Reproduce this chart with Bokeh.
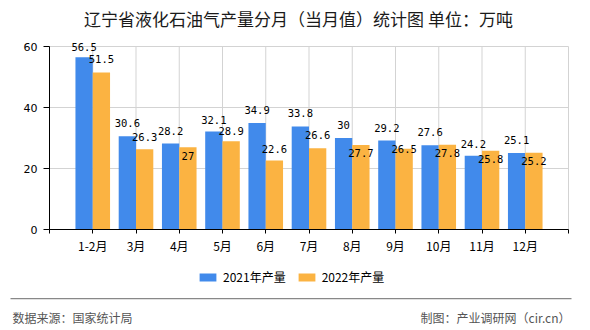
from bokeh.plotting import figure
from bokeh.models import (ColumnDataSource, Range1d, FixedTicker, Label, Legend,
                          LegendItem, BoxAnnotation, LinearAxis)
from bokeh.core.properties import value
from bokeh.embed import file_html
from bokeh.resources import INLINE

# ---------------- data ----------------
categories = ["1-2月", "3月", "4月", "5月", "6月", "7月", "8月", "9月", "10月", "11月", "12月"]
prod_2021 = [56.5, 30.6, 28.2, 32.1, 34.9, 33.8, 30.0, 29.2, 27.6, 24.2, 25.1]
prod_2022 = [51.5, 26.3, 27.0, 28.9, 22.6, 26.6, 27.7, 26.5, 27.8, 25.8, 25.2]
series_names = ["2021年产量", "2022年产量"]
label_2021 = ["56.5", "30.6", "28.2", "32.1", "34.9", "33.8", "30", "29.2", "27.6", "24.2", "25.1"]
label_2022 = ["51.5", "26.3", "27", "28.9", "22.6", "26.6", "27.7", "26.5", "27.8", "25.8", "25.2"]
# label placement (pixels above bar top; negative = below top), as in the reference
dy_2021 = [10, 13, 12, 12, 13, 13, 13, 12, 13, 12, 13]
dy_2022 = [13, 12, -9, 10, 12, 13, -8, 0, -8, -8, -8]
y_ticks = [0, 20, 40, 60]

title_text = "辽宁省液化石油气产量分月（当月值）统计图 单位：万吨"
source_text = "数据来源：国家统计局"
maker_text = "制图：产业调研网（cir.cn）"

BLUE = "#418aeb"
ORANGE = "#fbb342"
GRID = "#d3d3d3"
CJK = "Noto Sans CJK SC"

W, H = 590, 330
# plot area in canvas pixels
PL, PR, PT, PB = 49, 568, 46, 229

n = len(categories)
xs = list(range(1, n + 1))
x_lo, x_hi = 0, n + 1
y_lo, y_hi = 0, max(y_ticks)
ux = (PR - PL) / (x_hi - x_lo)
uy = (PB - PT) / (y_hi - y_lo)

src = ColumnDataSource(dict(
    x1=[v - 0.2 for v in xs],
    x2=[v + 0.2 for v in xs],
    y1=prod_2021, y2=prod_2022,
    l1=label_2021, l2=label_2022,
    o1=[-d for d in dy_2021], o2=[-d for d in dy_2022],
))

# the frame covers the whole canvas; the axes are pinned inside it
p = figure(width=W, height=H, output_backend="svg", toolbar_location=None,
           x_range=Range1d(x_lo - PL / ux, x_hi + (W - PR) / ux),
           y_range=Range1d(y_lo - (H - PB) / uy, y_hi + PT / uy),
           x_axis_location=None, y_axis_location=None,
           min_border=0, min_border_left=0, min_border_right=0,
           min_border_top=0, min_border_bottom=0)
p.outline_line_color = None
p.grid.visible = False
p.background_fill_color = "white"
p.border_fill_color = "white"

# grid lines
gx = list(range(x_lo, x_hi + 1))
p.segment(x0=gx, y0=[y_lo] * len(gx), x1=gx, y1=[y_hi] * len(gx),
          line_color=GRID, line_width=1, level="underlay")
gy = [t for t in y_ticks if t > y_lo]
p.segment(x0=[x_lo] * len(gy), y0=gy, x1=[x_hi] * len(gy), y1=gy,
          line_color=GRID, line_width=1, level="underlay")

r1 = p.vbar(x="x1", top="y1", width=0.4, source=src, fill_color=BLUE, line_color=None)
r2 = p.vbar(x="x2", top="y2", width=0.4, source=src, fill_color=ORANGE, line_color=None)

lbl_font = value("DejaVu Sans Mono")
p.text(x="x1", y="y1", text="l1", y_offset="o1", source=src, text_align="center",
       text_baseline="middle", text_font=lbl_font, text_font_size="10.5px", text_color="#000000")
p.text(x="x2", y="y2", text="l2", y_offset="o2", source=src, text_align="center",
       text_baseline="middle", text_font=lbl_font, text_font_size="10.5px", text_color="#000000")

# axes
overrides = {x_lo: "", x_hi: ""}
for i, c in enumerate(categories):
    overrides[i + 1] = c
xa = LinearAxis(fixed_location=y_lo, bounds=(x_lo, x_hi), ticker=FixedTicker(ticks=gx),
                major_label_overrides=overrides, minor_tick_line_color=None,
                major_tick_out=4, major_tick_in=0, major_label_standoff=3,
                axis_line_color="#000000", major_tick_line_color="#000000",
                major_label_text_font=CJK, major_label_text_font_size="12px",
                major_label_text_color="#000000")
p.add_layout(xa, "below")

ya = LinearAxis(fixed_location=x_lo, bounds=(y_lo, y_hi), ticker=FixedTicker(ticks=y_ticks),
                minor_tick_line_color=None, major_tick_out=6, major_tick_in=0,
                major_label_standoff=6, axis_line_color="#000000",
                major_tick_line_color="#000000", major_label_text_font="DejaVu Sans",
                major_label_text_font_size="11px", major_label_text_color="#000000")
p.add_layout(ya, "left")

# legend
legend = Legend(items=[LegendItem(label=series_names[0], renderers=[r1]),
                       LegendItem(label=series_names[1], renderers=[r2])],
                orientation="horizontal", location=(197, H - 285),
                glyph_width=21, glyph_height=10, label_height=14,
                label_standoff=5, spacing=10, padding=0, margin=0,
                border_line_color=None, background_fill_alpha=0,
                label_text_font=CJK, label_text_font_size="12px",
                label_text_color="#000000")
p.add_layout(legend, "center")

# title, rule and sources (screen units: origin at bottom-left of the canvas-sized frame)
p.add_layout(Label(x=298, y=H - 18, x_units="screen", y_units="screen", text=title_text,
                   text_align="center", text_baseline="middle", text_font=CJK,
                   text_font_size="17px", text_color="#1a1a1a"))
p.add_layout(BoxAnnotation(left=10, right=571, bottom=H - 298.8, top=H - 297.5,
                           left_units="screen", right_units="screen",
                           bottom_units="screen", top_units="screen",
                           fill_color="#888888", fill_alpha=1, line_color=None))
p.add_layout(Label(x=12, y=H - 317, x_units="screen", y_units="screen", text=source_text,
                   text_align="left", text_baseline="middle", text_font=CJK,
                   text_font_size="12px", text_color="#555555"))
p.add_layout(Label(x=570, y=H - 317, x_units="screen", y_units="screen", text=maker_text,
                   text_align="right", text_baseline="middle", text_font=CJK,
                   text_font_size="12px", text_color="#555555"))

open("out.html", "w").write(file_html(p, INLINE))
